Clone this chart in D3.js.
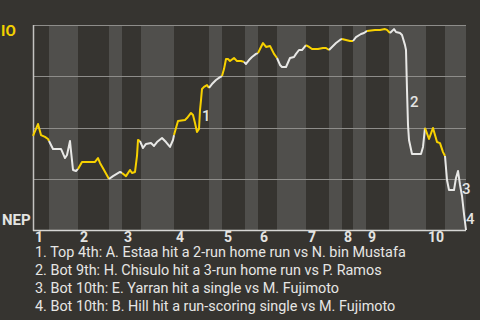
<!DOCTYPE html>
<html>
<head>
<meta charset="utf-8">
<script src="https://cdn.jsdelivr.net/npm/d3@7"></script>
<style>
body { margin: 0; background: #363430; }
svg { display: block; }
</style>
</head>
<body>
<svg></svg>
<script>
// event number along the game, and IO win probability after it
var playIdx = [0, 2.5, 4, 6, 7.5, 8, 9, 10, 14, 14.5, 16, 17, 18.5, 19, 20, 21.5, 22.5, 24.5, 31, 32.5,
  33.5, 35.5, 38, 40, 43.5, 44.5, 46.5, 48.5, 49.5, 51, 52, 52.5, 53.5, 55, 56.5, 59, 60.5, 62, 64.5, 66.5,
  68.5, 70, 70.5, 72.5, 76, 77, 79, 80, 81, 82, 83, 83.5, 84, 84.5, 85.5, 87, 88, 89.5, 91.5, 93.5,
  94.5, 95.5, 96.5, 97.5, 98.5, 100.5, 102, 104, 105.5, 106.5, 108, 109.5, 111.5, 112.5, 113.5, 115, 116.5, 118.5, 120.5, 122,
  123.5, 124.5, 126.5, 128.5, 130.5, 131.5, 133, 134.5, 136.5, 138, 139.5, 142.5, 145, 146.5, 148, 149.5, 151.5, 153.5, 154.5, 156.5,
  158.5, 160, 161.5, 164, 165.5, 167, 171, 173.5, 176, 177, 178.5, 180.5, 181.5, 183.5, 184.5, 186, 186.5, 187, 187.5, 188,
  189.5, 194, 195, 196, 198, 200, 202, 203.5, 205, 206, 207, 208, 210.5, 211.5, 212.5, 213.5, 214.5, 215.5, 216.5];
var ioWinProb = [.459, .517, .463, .454, .444, .434, .415, .395, .395, .385, .351, .366, .434, .385, .293, .288, .298, .332, .332, .351,
  .327, .293, .249, .263, .283, .278, .263, .293, .278, .283, .361, .439, .434, .400, .420, .424, .410, .429, .449, .429,
  .405, .439, .463, .532, .537, .546, .571, .561, .522, .478, .493, .585, .634, .688, .698, .707, .693, .712, .732, .746,
  .751, .785, .834, .834, .824, .839, .824, .824, .820, .810, .829, .844, .859, .863, .883, .912, .893, .898, .859, .839,
  .805, .795, .795, .839, .844, .859, .878, .878, .902, .893, .883, .883, .888, .888, .878, .893, .912, .927, .932, .927,
  .922, .922, .941, .956, .961, .971, .976, .976, .980, .976, .961, .980, .966, .961, .951, .902, .878, .683, .512, .439,
  .371, .371, .405, .498, .444, .498, .429, .424, .380, .361, .244, .195, .195, .254, .288, .220, .166, .078, 0];

// where each half inning starts (top 1st, bot 1st, top 2nd ...)
var halfStarts = [0, 8, 22.5, 38, 44.5, 54, 70.5, 88, 94.5, 106, 112.5, 122, 136.5, 148, 154.5, 160, 166.5, 178, 196.5, 206];
var lastIdx = 216.5;
var innings = ["1", "2", "3", "4", "5", "6", "7", "8", "9", "10"];

var eventLabels = ["1", "2", "3", "4"];
var eventIdx = [84.5, 188.5, 214.5, 216.5];
var eventWp = [.556, .627, .2, .054];
var notes = [
  "1. Top 4th: A. Estaa hit a 2-run home run vs N. bin Mustafa",
  "2. Bot 9th: H. Chisulo hit a 3-run home run vs P. Ramos",
  "3. Bot 10th: E. Yarran hit a single vs M. Fujimoto",
  "4. Bot 10th: B. Hill hit a run-scoring single vs M. Fujimoto"
];
var gridVals = [0.25, 0.5, 0.75, 1];

var width = 480, height = 320;
var plotLeft = 33, plotRight = 466, plotTop = 25, plotBottom = 230;

var svg = d3.select("svg").attr("width", width).attr("height", height)
  .style("font-family", "Roboto, sans-serif");

svg.append("rect").attr("width", width).attr("height", height).attr("fill", "#363430");

var x = d3.scaleLinear().domain([0, lastIdx]).range([plotLeft, plotRight]);
var y = d3.scaleLinear().domain([0, 1]).range([plotBottom, plotTop]);

var halfEnds = halfStarts.slice(1).concat([lastIdx]);

// light bands for the bottom halves
svg.selectAll("rect.band")
  .data(halfStarts.filter(function(d, i) { return i % 2 == 1; }))
  .enter()
  .append("rect")
  .attr("class", "band")
  .attr("x", function(d) { return x(d); })
  .attr("y", plotTop)
  .attr("width", function(d) { return x(halfEnds[halfStarts.indexOf(d)]) - x(d); })
  .attr("height", plotBottom - plotTop)
  .attr("fill", "#504f4c");

svg.selectAll("line.grid")
  .data(gridVals)
  .enter()
  .append("line")
  .attr("class", "grid")
  .attr("x1", plotLeft)
  .attr("x2", plotRight)
  .attr("y1", function(d) { return Math.round(y(d)) + 0.5; })
  .attr("y2", function(d) { return Math.round(y(d)) + 0.5; })
  .attr("stroke", "#8e8d8a")
  .attr("stroke-width", 1);

svg.append("line").attr("x1", plotLeft + 0.5).attr("x2", plotLeft + 0.5).attr("y1", plotTop).attr("y2", plotBottom + 1)
  .attr("stroke", "#c4c3c0").attr("stroke-width", 1.5);
svg.append("line").attr("x1", plotLeft).attr("x2", plotRight).attr("y1", plotBottom + 0.5).attr("y2", plotBottom + 0.5)
  .attr("stroke", "#d6d6d4").attr("stroke-width", 1.5);

// split the line into runs by half inning, top halves in yellow
var pts = playIdx.map(function(d, i) { return [d, ioWinProb[i]]; });
var runs = [];
for (var i = 1; i < pts.length; i++) {
  var mid = (pts[i - 1][0] + pts[i][0]) / 2;
  var half = d3.bisectRight(halfStarts, mid) - 1;
  var isTop = half % 2 == 0;
  if (runs.length == 0 || runs[runs.length - 1].isTop != isTop) {
    runs.push({isTop: isTop, pts: [pts[i - 1]]});
  }
  runs[runs.length - 1].pts.push(pts[i]);
}

var line = d3.line()
  .x(function(d) { return x(d[0]); })
  .y(function(d) { return y(d[1]); });

svg.selectAll("path.wp")
  .data(runs)
  .enter()
  .append("path")
  .attr("class", "wp")
  .attr("d", function(d) { return line(d.pts); })
  .attr("fill", "none")
  .attr("stroke", function(d) { return d.isTop ? "#f7d100" : "#e8e8e6"; })
  .attr("stroke-width", 2)
  .attr("stroke-linejoin", "round");

svg.selectAll("text.event")
  .data(eventLabels)
  .enter()
  .append("text")
  .attr("class", "event")
  .text(function(d) { return d; })
  .attr("x", function(d, i) { return x(eventIdx[i]); })
  .attr("y", function(d, i) { return y(eventWp[i]); })
  .attr("dy", "0.36em")
  .attr("font-size", "15px")
  .attr("font-weight", "500")
  .attr("fill", "#e4e4e2");

// inning numbers under the axis
svg.selectAll("text.inning")
  .data(innings)
  .enter()
  .append("text")
  .attr("class", "inning")
  .text(function(d) { return d; })
  .attr("x", function(d, i) { return x(halfStarts[i * 2]) + 2; })
  .attr("y", 242)
  .attr("font-size", "14px")
  .attr("font-weight", "bold")
  .attr("fill", "#e4e4e2");

svg.append("text").text("IO").attr("x", 1).attr("y", 36)
  .attr("font-size", "15px").attr("font-weight", "bold").attr("fill", "#f2d000");
svg.append("text").text("NEP").attr("x", 2).attr("y", 225)
  .attr("font-size", "15px").attr("font-weight", "bold").attr("fill", "#e4e4e2");

svg.selectAll("text.note")
  .data(notes)
  .enter()
  .append("text")
  .attr("class", "note")
  .text(function(d) { return d; })
  .attr("x", 35)
  .attr("y", function(d, i) { return 257 + i * 18; })
  .attr("font-size", "14.4px")
  .attr("fill", "#e6e6e4");
</script>
</body>
</html>
